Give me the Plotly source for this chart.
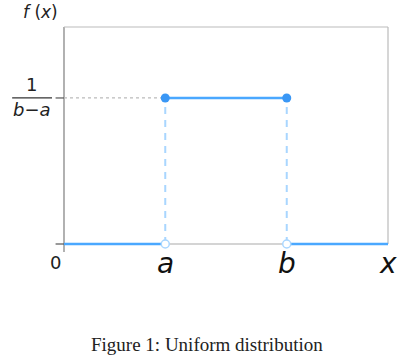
import plotly.graph_objects as go

# data
x_min, x_max = 0.0, 8.0
a_val, b_val = 2.5, 5.5
density = 1.0
y_lo, y_max = -0.0548, 1.486
x_labels = ["a", "b", "x"]
x_label_pos = [a_val, b_val, x_max]

BLUE = "#4aa8ff"
DOT = "#3a97f5"
LIGHT = "#a9d6ff"

fig = go.Figure()
# bottom axis line (gray)
fig.add_trace(go.Scatter(x=[x_min, x_max], y=[0, 0], mode="lines",
                         line=dict(color="#aaaaaa", width=1.2), hoverinfo="skip"))
# dotted guide
fig.add_trace(go.Scatter(x=[x_min, a_val], y=[density, density], mode="lines",
                         line=dict(color="#bbbbbb", width=1.2, dash="dot"), hoverinfo="skip"))
# dashed verticals
for xv in [a_val, b_val]:
    fig.add_trace(go.Scatter(x=[xv, xv], y=[0, density], mode="lines",
                             line=dict(color=LIGHT, width=2, dash="7px,6px"), hoverinfo="skip"))
# solid segments
fig.add_trace(go.Scatter(x=[x_min, a_val], y=[0, 0], mode="lines",
                         line=dict(color=BLUE, width=2.5), hoverinfo="skip"))
fig.add_trace(go.Scatter(x=[b_val, x_max], y=[0, 0], mode="lines",
                         line=dict(color=BLUE, width=2.5), hoverinfo="skip"))
fig.add_trace(go.Scatter(x=[a_val, b_val], y=[density, density], mode="lines+markers",
                         line=dict(color=BLUE, width=2.5),
                         marker=dict(color=DOT, size=9), hoverinfo="skip"))
# open circles
fig.add_trace(go.Scatter(x=[a_val, b_val], y=[0, 0], mode="markers", cliponaxis=False,
                         marker=dict(color="white", size=8, line=dict(color=LIGHT, width=1.5)),
                         hoverinfo="skip"))

fig.update_xaxes(range=[x_min, x_max], showgrid=False, zeroline=False, showticklabels=False,
                 showline=False, ticks="")
fig.update_yaxes(range=[y_lo, y_max], showgrid=False, zeroline=False, showticklabels=False,
                 showline=False, ticks="")

W, H = 415, 362
L, R, T, B = 64, 27, 27, 110
pw, ph = W - L - R, H - T - B
y0_paper = (0 - y_lo) / (y_max - y_lo)

shapes = [
    # left axis (extends slightly below zero)
    dict(type="line", xref="paper", yref="paper", x0=0, x1=0, y0=0, y1=1, layer="below",
         line=dict(color="#888888", width=1.3)),
    # top frame
    dict(type="line", xref="paper", yref="paper", x0=0, x1=1, y0=1, y1=1, layer="below",
         line=dict(color="#bbbbbb", width=1.2)),
    # right frame
    dict(type="line", xref="paper", yref="paper", x0=1, x1=1, y0=y0_paper, y1=1, layer="below",
         line=dict(color="#bbbbbb", width=1.2)),
    # tick at y=0
    dict(type="line", xref="paper", yref="paper", x0=-0.026, x1=0, y0=y0_paper, y1=y0_paper,
         line=dict(color="#555555", width=1.2)),
    # tick at density
    dict(type="line", xref="paper", yref="y", x0=-0.026, x1=0, y0=density, y1=density,
         line=dict(color="#555555", width=1.2)),
    # fraction bar
    dict(type="line", xref="paper", yref="y", x0=-0.16, x1=-0.037, y0=density, y1=density,
         line=dict(color="#333333", width=1.2)),
]
fig.update_layout(shapes=shapes)

ann = []
for lab, xv in zip(x_labels, x_label_pos):
    ann.append(dict(x=xv, y=0, xref="x", yref="y", text=f"<i>{lab}</i>", showarrow=False,
                    xanchor="center", yshift=-19,
                    font=dict(family="DejaVu Sans", size=28, color="#111111")))
ann.append(dict(x=x_min, y=0, xref="x", yref="y", text="0", showarrow=False, xanchor="center",
                xshift=-9, yshift=-18, font=dict(family="DejaVu Sans", size=18, color="#222222")))
ann.append(dict(x=-0.1, y=density, xref="paper", yref="y", text="1", showarrow=False,
                xanchor="center", yshift=13,
                font=dict(family="DejaVu Sans", size=18, color="#222222")))
ann.append(dict(x=-0.1, y=density, xref="paper", yref="y", text="<i>b</i>−<i>a</i>", showarrow=False,
                xanchor="center", yshift=-12,
                font=dict(family="DejaVu Sans", size=18, color="#222222")))
ann.append(dict(x=-0.012, y=1, xref="paper", yref="paper", text="<i>f</i> (<i>x</i>)", showarrow=False,
                xanchor="right", yanchor="bottom", yshift=3,
                font=dict(family="DejaVu Sans", size=17, color="#222222")))
ann.append(dict(x=(207 - L) / pw, y=(H - B - 344) / ph, xref="paper", yref="paper",
                xanchor="center", yanchor="middle",
                text="Figure 1: Uniform distribution",
                showarrow=False, font=dict(family="Liberation Serif", size=19, color="#222222")))
fig.update_layout(annotations=ann)

fig.update_layout(width=W, height=H, margin=dict(l=L, r=R, t=T, b=B),
                  plot_bgcolor="white", paper_bgcolor="white", showlegend=False)
fig.write_html("out.html")
